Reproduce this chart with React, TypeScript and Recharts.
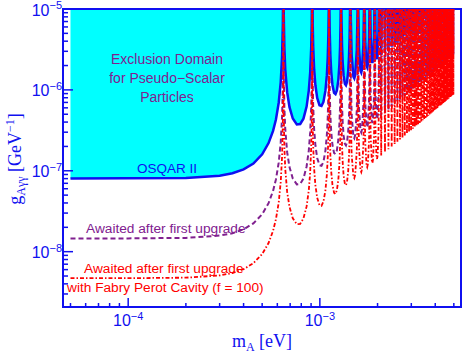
import { ComposedChart, Area, Line, XAxis, YAxis, ReferenceArea } from "recharts";

// axis ranges (eV, GeV^-1)
const X_DOMAIN: [number, number] = [4.57e-5, 5.45e-3];
const Y_DOMAIN: [number, number] = [2.07e-9, 1e-5];

const xTicks = [5e-5, 6e-5, 7e-5, 8e-5, 9e-5, 1e-4, 2e-4, 3e-4, 4e-4, 5e-4, 6e-4, 7e-4, 8e-4, 9e-4, 1e-3, 2e-3, 3e-3, 4e-3, 5e-3];
const yTicks = [
  3e-9, 4e-9, 5e-9, 6e-9, 7e-9, 8e-9, 9e-9, 1e-8, 2e-8, 3e-8, 4e-8, 5e-8, 6e-8, 7e-8, 8e-8, 9e-8,
  1e-7, 2e-7, 3e-7, 4e-7, 5e-7, 6e-7, 7e-7, 8e-7, 9e-7, 1e-6, 2e-6, 3e-6, 4e-6, 5e-6, 6e-6, 7e-6, 8e-6, 9e-6, 1e-5,
];

// resonances shoot far above the frame
const OFF = 1e-3;

// flat part + first lobes, mass in meV
const headMassMeV = [
  0.05, 0.1, 0.2, 0.3, 0.35, 0.4, 0.45, 0.5, 0.54, 0.57, 0.59, 0.61, 0.625, 0.635, 0.641, 0.644, 0.645,
  0.6481, 0.6532, 0.6602, 0.6751, 0.6944, 0.7225, 0.7582, 0.79, 0.8211, 0.8528, 0.8758, 0.8901, 0.9012, 0.9064, 0.91, 0.9122,
  0.9144, 0.918, 0.923, 0.9337, 0.9478, 0.9685, 0.9955, 1.0198, 1.0442, 1.0692, 1.0876, 1.0993, 1.1083, 1.1124, 1.1154, 1.1172,
  1.119, 1.1219, 1.126, 1.1348, 1.1464, 1.1636, 1.1862, 1.2067, 1.2273, 1.2487, 1.2645, 1.2745, 1.2823, 1.2859, 1.2885, 1.29,
  1.2915, 1.2941, 1.2977, 1.3053, 1.3154, 1.3304, 1.3502, 1.3683, 1.3865, 1.4055, 1.4195, 1.4284, 1.4354, 1.4386, 1.4409, 1.4423,
  1.4491, 1.465, 1.4963, 1.5127, 1.5292, 1.5588, 1.5736, 1.5799,
  1.5862, 1.6007, 1.6294, 1.6444, 1.6596, 1.687, 1.7007, 1.7065,
  1.7123, 1.7258, 1.7525, 1.7664, 1.7806, 1.8061, 1.8189, 1.8243,
  1.8298, 1.8424, 1.8674, 1.8805, 1.8938, 1.9178, 1.9299, 1.935,
  1.9401, 1.952, 1.9756, 1.988, 2.0006, 2.0234, 2.0348, 2.0397,
];
const headOsqar = [
  8.05e-8, 8.06e-8, 8.17e-8, 8.7e-8, 9.32e-8, 1.04e-7, 1.23e-7, 1.6e-7, 2.2e-7, 3.11e-7, 4.31e-7, 6.94e-7, 1.25e-6, 2.54e-6, 6.44e-6, 2.57e-5, OFF,
  8.51e-6, 3.25e-6, 1.77e-6, 9.38e-7, 6.11e-7, 4.42e-7, 3.75e-7, 3.79e-7, 4.41e-7, 6.21e-7, 9.88e-7, 1.63e-6, 3.3e-6, 6.25e-6, 1.68e-5, OFF,
  1.69e-5, 6.41e-6, 3.47e-6, 1.79e-6, 1.14e-6, 7.95e-7, 6.46e-7, 6.32e-7, 7.13e-7, 9.77e-7, 1.52e-6, 2.49e-6, 5.0e-6, 9.41e-6, 2.52e-5, OFF,
  2.54e-5, 9.57e-6, 5.16e-6, 2.65e-6, 1.67e-6, 1.15e-6, 9.18e-7, 8.85e-7, 9.85e-7, 1.33e-6, 2.06e-6, 3.34e-6, 6.69e-6, 1.26e-5, 3.36e-5, OFF,
  3.38e-5, 1.27e-5, 6.85e-6, 3.5e-6, 2.19e-6, 1.5e-6, 1.19e-6, 1.14e-6, 1.26e-6, 1.69e-6, 2.6e-6, 4.2e-6, 8.38e-6, 1.57e-5, 4.21e-5, OFF,
  8.54e-6, 2.72e-6, 1.46e-6, 1.39e-6, 1.53e-6, 3.08e-6, 1.01e-5, OFF,
  1.02e-5, 3.25e-6, 1.73e-6, 1.64e-6, 1.8e-6, 3.61e-6, 1.18e-5, OFF,
  1.19e-5, 3.78e-6, 2.0e-6, 1.9e-6, 2.07e-6, 4.14e-6, 1.35e-5, OFF,
  1.36e-5, 4.3e-6, 2.27e-6, 2.15e-6, 2.35e-6, 4.66e-6, 1.52e-5, OFF,
  1.53e-5, 4.83e-6, 2.55e-6, 2.4e-6, 2.62e-6, 5.19e-6, 1.68e-5, OFF,
];
const headUpgrade = [
  1.46e-8, 1.46e-8, 1.48e-8, 1.58e-8, 1.69e-8, 1.89e-8, 2.24e-8, 2.9e-8, 3.98e-8, 5.64e-8, 7.82e-8, 1.26e-7, 2.26e-7, 4.6e-7, 1.17e-6, 4.67e-6, OFF,
  1.54e-6, 5.89e-7, 3.22e-7, 1.7e-7, 1.11e-7, 8.02e-8, 6.8e-8, 6.88e-8, 8.0e-8, 1.13e-7, 1.79e-7, 2.96e-7, 5.99e-7, 1.13e-6, 3.04e-6, OFF,
  3.07e-6, 1.16e-6, 6.29e-7, 3.25e-7, 2.07e-7, 1.44e-7, 1.17e-7, 1.15e-7, 1.29e-7, 1.77e-7, 2.76e-7, 4.51e-7, 9.06e-7, 1.71e-6, 4.57e-6, OFF,
  4.6e-6, 1.74e-6, 9.36e-7, 4.8e-7, 3.02e-7, 2.08e-7, 1.66e-7, 1.61e-7, 1.79e-7, 2.42e-7, 3.73e-7, 6.06e-7, 1.21e-6, 2.28e-6, 6.1e-6, OFF,
  6.13e-6, 2.31e-6, 1.24e-6, 6.36e-7, 3.98e-7, 2.72e-7, 2.16e-7, 2.06e-7, 2.28e-7, 3.06e-7, 4.71e-7, 7.61e-7, 1.52e-6, 2.86e-6, 7.63e-6, OFF,
  1.55e-6, 4.94e-7, 2.65e-7, 2.52e-7, 2.78e-7, 5.59e-7, 1.83e-6, OFF,
  1.86e-6, 5.89e-7, 3.14e-7, 2.98e-7, 3.27e-7, 6.55e-7, 2.13e-6, OFF,
  2.16e-6, 6.85e-7, 3.63e-7, 3.44e-7, 3.76e-7, 7.5e-7, 2.44e-6, OFF,
  2.47e-6, 7.81e-7, 4.12e-7, 3.9e-7, 4.26e-7, 8.46e-7, 2.75e-6, OFF,
  2.78e-6, 8.76e-7, 4.62e-7, 4.36e-7, 4.75e-7, 9.42e-7, 3.06e-6, OFF,
];
const headFabry = [
  4.7e-9, 4.7e-9, 4.77e-9, 5.08e-9, 5.44e-9, 6.07e-9, 7.2e-9, 9.34e-9, 1.28e-8, 1.81e-8, 2.52e-8, 4.05e-8, 7.28e-8, 1.48e-7, 3.76e-7, 1.5e-6, OFF,
  4.97e-7, 1.9e-7, 1.04e-7, 5.48e-8, 3.57e-8, 2.58e-8, 2.19e-8, 2.21e-8, 2.58e-8, 3.63e-8, 5.77e-8, 9.52e-8, 1.93e-7, 3.65e-7, 9.79e-7, OFF,
  9.89e-7, 3.74e-7, 2.02e-7, 1.05e-7, 6.65e-8, 4.64e-8, 3.77e-8, 3.69e-8, 4.17e-8, 5.71e-8, 8.9e-8, 1.45e-7, 2.92e-7, 5.49e-7, 1.47e-6, OFF,
  1.48e-6, 5.59e-7, 3.01e-7, 1.55e-7, 9.73e-8, 6.7e-8, 5.36e-8, 5.17e-8, 5.75e-8, 7.78e-8, 1.2e-7, 1.95e-7, 3.91e-7, 7.35e-7, 1.96e-6, OFF,
  1.97e-6, 7.44e-7, 4.0e-7, 2.05e-7, 1.28e-7, 8.76e-8, 6.94e-8, 6.65e-8, 7.35e-8, 9.86e-8, 1.52e-7, 2.45e-7, 4.89e-7, 9.19e-7, 2.46e-6, OFF,
  4.99e-7, 1.59e-7, 8.53e-8, 8.12e-8, 8.93e-8, 1.8e-7, 5.88e-7, OFF,
  5.98e-7, 1.9e-7, 1.01e-7, 9.6e-8, 1.05e-7, 2.11e-7, 6.87e-7, OFF,
  6.97e-7, 2.21e-7, 1.17e-7, 1.11e-7, 1.21e-7, 2.41e-7, 7.86e-7, OFF,
  7.95e-7, 2.51e-7, 1.33e-7, 1.25e-7, 1.37e-7, 2.72e-7, 8.85e-7, OFF,
  8.94e-7, 2.82e-7, 1.49e-7, 1.4e-7, 1.53e-7, 3.03e-7, 9.84e-7, OFF,
];

// dense tail: one dip and one resonance per lobe
const tailDipMassMeV = [
  2.09, 2.187, 2.28, 2.37, 2.456, 2.539, 2.62, 2.698, 2.774, 2.848,
  2.92, 2.991, 3.059, 3.127, 3.193, 3.257, 3.32, 3.382, 3.443, 3.503,
  3.562, 3.62, 3.677, 3.733, 3.789, 3.843, 3.897, 3.95, 4.002, 4.054,
  4.105, 4.155, 4.205, 4.254, 4.303, 4.351, 4.398, 4.445, 4.492, 4.538,
  4.584, 4.629, 4.673, 4.718, 4.762, 4.805, 4.848, 4.891, 4.933, 4.975,
];
const tailPeakMassMeV = [
  2.139, 2.234, 2.326, 2.413, 2.498, 2.58, 2.659, 2.736, 2.812, 2.885,
  2.956, 3.025, 3.093, 3.16, 3.225, 3.289, 3.352, 3.413, 3.473, 3.533,
  3.591, 3.649, 3.705, 3.761, 3.816, 3.87, 3.923, 3.976, 4.028, 4.079,
  4.13, 4.18, 4.23, 4.278, 4.327, 4.375, 4.422, 4.469, 4.515, 4.561,
  4.606, 4.651, 4.696, 4.74, 4.783, 4.827, 4.87, 4.912, 4.954, 4.996,
];
const tailOsqarDips = [
  2.66e-6, 2.91e-6, 3.16e-6, 3.41e-6, 3.67e-6, 3.92e-6, 4.17e-6, 4.43e-6, 4.68e-6, 4.93e-6,
  5.18e-6, 5.44e-6, 5.69e-6, 5.94e-6, 6.2e-6, 6.45e-6, 6.7e-6, 6.95e-6, 7.21e-6, 7.46e-6,
  7.71e-6, 7.97e-6, 8.22e-6, 8.47e-6, 8.73e-6, 8.98e-6, 9.23e-6, 9.48e-6, 9.74e-6, 9.99e-6,
];
const tailUpgradeDips = [
  4.82e-7, 5.27e-7, 5.73e-7, 6.19e-7, 6.65e-7, 7.11e-7, 7.57e-7, 8.03e-7, 8.49e-7, 8.94e-7,
  9.4e-7, 9.86e-7, 1.03e-6, 1.08e-6, 1.12e-6, 1.17e-6, 1.22e-6, 1.26e-6, 1.31e-6, 1.35e-6,
  1.4e-6, 1.44e-6, 1.49e-6, 1.54e-6, 1.58e-6, 1.63e-6, 1.67e-6, 1.72e-6, 1.77e-6, 1.81e-6,
  1.86e-6, 1.9e-6, 1.95e-6, 2.0e-6, 2.04e-6, 2.09e-6, 2.13e-6, 2.18e-6, 2.22e-6, 2.27e-6,
  2.32e-6, 2.36e-6, 2.41e-6, 2.45e-6, 2.5e-6, 2.55e-6, 2.59e-6, 2.64e-6, 2.68e-6, 2.73e-6,
];
const tailFabryDips = [
  1.55e-7, 1.7e-7, 1.85e-7, 1.99e-7, 2.14e-7, 2.29e-7, 2.44e-7, 2.58e-7, 2.73e-7, 2.88e-7,
  3.03e-7, 3.17e-7, 3.32e-7, 3.47e-7, 3.62e-7, 3.77e-7, 3.91e-7, 4.06e-7, 4.21e-7, 4.36e-7,
  4.5e-7, 4.65e-7, 4.8e-7, 4.95e-7, 5.09e-7, 5.24e-7, 5.39e-7, 5.54e-7, 5.68e-7, 5.83e-7,
  5.98e-7, 6.13e-7, 6.27e-7, 6.42e-7, 6.57e-7, 6.72e-7, 6.87e-7, 7.01e-7, 7.16e-7, 7.31e-7,
  7.46e-7, 7.6e-7, 7.75e-7, 7.9e-7, 8.05e-7, 8.19e-7, 8.34e-7, 8.49e-7, 8.64e-7, 8.79e-7,
];

type Row = { m: number; osqar?: number; upgrade?: number; fabry?: number };

const rows: Row[] = headMassMeV.map((m, i) => ({
  m: m * 1e-3,
  osqar: headOsqar[i],
  upgrade: headUpgrade[i],
  fabry: headFabry[i],
}));
tailDipMassMeV.forEach((m, i) => {
  const hasOsqar = tailOsqarDips[i] !== undefined;
  rows.push({ m: m * 1e-3, osqar: tailOsqarDips[i], upgrade: tailUpgradeDips[i], fabry: tailFabryDips[i] });
  rows.push({ m: tailPeakMassMeV[i] * 1e-3, osqar: hasOsqar ? OFF : undefined, upgrade: OFF, fabry: OFF });
});

const W = 463;
const H = 354;
const PLOT_LEFT = 63;
const PLOT_BOTTOM = 307;
const BLUE = "#1010f0";
const PURPLE = "#80208f";
const RED = "#ff0000";
const SANS = "'Liberation Sans', Arial, sans-serif";
const SERIF = "'Liberation Serif', 'Times New Roman', serif";

const isDecade = (v: number) => Math.abs(Math.log10(v) - Math.round(Math.log10(v))) < 1e-6;

function YTick({ y, payload }: any) {
  const major = isDecade(payload.value);
  const exp = Math.round(Math.log10(payload.value));
  return (
    <g>
      <line x1={PLOT_LEFT} x2={PLOT_LEFT + (major ? 10 : 5)} y1={y} y2={y} stroke={BLUE} strokeWidth={1.5} />
      {major && (
        <text x={PLOT_LEFT - 1} y={y + 6.5} textAnchor="end" fill={BLUE} fontFamily={SANS} fontSize={16}>
          10
          <tspan dy={-6.5} fontSize={11}>{`\u2212${-exp}`}</tspan>
        </text>
      )}
    </g>
  );
}

function XTick({ x, payload }: any) {
  const major = isDecade(payload.value);
  const exp = Math.round(Math.log10(payload.value));
  return (
    <g>
      <line x1={x} x2={x} y1={PLOT_BOTTOM} y2={PLOT_BOTTOM - (major ? 9 : 4)} stroke={BLUE} strokeWidth={1.5} />
      {major && (
        <text x={x} y={PLOT_BOTTOM + 19} textAnchor="middle" fill={BLUE} fontFamily={SANS} fontSize={16}>
          10
          <tspan dy={-6.5} fontSize={11}>{`\u2212${-exp}`}</tspan>
        </text>
      )}
    </g>
  );
}

export default function App() {
  return (
    <div style={{ position: "absolute", left: 0, top: 0, width: W, height: H, background: "#fff" }}>
      <ComposedChart width={W} height={H} data={rows} margin={{ top: 9, right: 2, bottom: 0, left: 0 }}>
        <XAxis
          dataKey="m"
          type="number"
          scale="log"
          domain={X_DOMAIN}
          allowDataOverflow
          ticks={xTicks}
          interval={0}
          tick={<XTick />}
          tickLine={false}
          axisLine={false}
          height={47}
        />
        <YAxis
          type="number"
          scale="log"
          domain={Y_DOMAIN}
          allowDataOverflow
          ticks={yTicks}
          interval={0}
          tick={<YTick />}
          tickLine={false}
          axisLine={false}
          width={63}
        />
        <Area
          type="linear"
          dataKey="osqar"
          baseValue={Y_DOMAIN[1]}
          fill="#00ffff"
          fillOpacity={1}
          stroke={BLUE}
          strokeWidth={2.5}
          dot={false}
          activeDot={false}
          isAnimationActive={false}
        />
        <Line
          type="linear"
          dataKey="upgrade"
          stroke={PURPLE}
          strokeWidth={2}
          strokeDasharray="5 3"
          dot={false}
          activeDot={false}
          isAnimationActive={false}
        />
        <Line
          type="linear"
          dataKey="fabry"
          stroke={RED}
          strokeWidth={1.8}
          strokeDasharray="4 2 1.5 2"
          dot={false}
          activeDot={false}
          isAnimationActive={false}
        />
        <ReferenceArea
          x1={X_DOMAIN[0]}
          x2={X_DOMAIN[1]}
          y1={Y_DOMAIN[0]}
          y2={Y_DOMAIN[1]}
          fill="none"
          fillOpacity={0}
          stroke={BLUE}
          strokeWidth={2}
        />
      </ComposedChart>
      <svg width={W} height={H} style={{ position: "absolute", left: 0, top: 0, pointerEvents: "none" }}>
        <g fontFamily={SANS} fontSize={14} fill={PURPLE} textAnchor="middle">
          <text x={167} y={64}>Exclusion Domain</text>
          <text x={167} y={83}>for Pseudo{"\u2212"}Scalar</text>
          <text x={167} y={102}>Particles</text>
        </g>
        <text x={167} y={173} fontFamily={SANS} fontSize={13.5} fill={BLUE} textAnchor="middle">
          OSQAR II
        </text>
        <text x={86} y={233} fontFamily={SANS} fontSize={13.7} fill={PURPLE}>
          Awaited after first upgrade
        </text>
        <text x={84} y={273} fontFamily={SANS} fontSize={13.7} fill={RED}>
          Awaited after first upgrade
        </text>
        <text x={67} y={292} fontFamily={SANS} fontSize={13.7} fill={RED}>
          with Fabry Perot Cavity (f = 100)
        </text>
        <text x={262} y={347} fontFamily={SERIF} fontSize={18} fill={BLUE} textAnchor="middle">
          m<tspan dy={4} fontSize={12}>A</tspan>
          <tspan dy={-4}> [eV]</tspan>
        </text>
        <text
          x={21}
          y={159}
          transform="rotate(-90, 21, 159)"
          fontFamily={SERIF}
          fontSize={18}
          fill={BLUE}
          textAnchor="middle"
        >
          g<tspan dy={4} fontSize={12}>{"A\u03b3\u03b3"}</tspan>
          <tspan dy={-4}> [GeV</tspan>
          <tspan dy={-7} fontSize={12}>{"\u22121"}</tspan>
          <tspan dy={7}>]</tspan>
        </text>
      </svg>
    </div>
  );
}
